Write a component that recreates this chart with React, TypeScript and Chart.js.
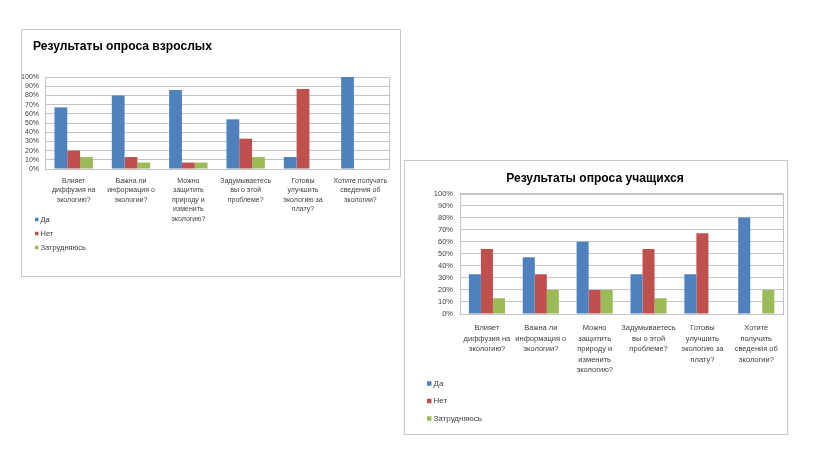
import React, { useEffect, useRef } from "react";
import { Chart, registerables } from "chart.js";

Chart.register(...registerables);

const seriesNames = ["Да", "Нет", "Затрудняюсь"];
const seriesColors = ["#4F81BD", "#C0504D", "#9BBB59"];

const adultTitle = "Результаты опроса взрослых";
const adultCategories = [
  ["Влияет", "диффузия на", "экологию?"],
  ["Важна ли", "информация о", "экологии?"],
  ["Можно", "защитить", "природу и", "изменить", "экологию?"],
  ["Задумываетесь", "вы о этой", "проблеме?"],
  ["Готовы", "улучшить", "экологию за", "плату?"],
  ["Хотите получать", "сведения об", "экологии?"],
];
const adultYes = [67, 80, 86, 54, 13, 100];
const adultNo = [20, 13, 7, 33, 87, 0];
const adultUnsure = [13, 7, 7, 13, 0, 0];

const studentTitle = "Результаты опроса учащихся";
const studentCategories = [
  ["Влияет", "диффузия на", "экологию?"],
  ["Важна ли", "информация о", "экологии?"],
  ["Можно", "защитить", "природу и", "изменить", "экологию?"],
  ["Задумываетесь", "вы о этой", "проблеме?"],
  ["Готовы", "улучшить", "экологию за", "плату?"],
  ["Хотите", "получать", "сведения об", "экологии?"],
];
const studentYes = [33, 47, 60, 33, 33, 80];
const studentNo = [54, 33, 20, 54, 67, 0];
const studentUnsure = [13, 20, 20, 13, 0, 20];

const yMin = 0;
const yMax = 100;
const yStep = 10;

const FONT = "'Liberation Sans', Arial, sans-serif";
const TEXT = "#404040";
const GRID = "#C4C4C4";

const frameLegendPlugin = {
  id: "frameLegend",
  beforeDatasetsDraw(chart: any, _a: any, opts: any) {
    const { ctx, chartArea } = chart;
    ctx.save();
    ctx.strokeStyle = opts.frameColor;
    ctx.lineWidth = 1;
    const l = Math.round(chartArea.left) + 0.5;
    const t = Math.round(chartArea.top) + 0.5;
    const r = Math.round(chartArea.right) + 0.5;
    const b = Math.round(chartArea.bottom) + 0.5;
    ctx.strokeRect(l, t, r - l, b - t);
    ctx.restore();
  },
  afterDraw(chart: any, _a: any, opts: any) {
    const { ctx } = chart;
    ctx.save();
    if (opts.title) {
      ctx.fillStyle = "#000";
      ctx.font = opts.title.font;
      ctx.textBaseline = "middle";
      ctx.textAlign = "left";
      ctx.fillText(opts.title.text, opts.title.x, opts.title.y);
    }
    chart.data.datasets.forEach((ds: any, i: number) => {
      const y = opts.y + i * opts.dy;
      ctx.fillStyle = ds.backgroundColor;
      ctx.fillRect(opts.x, y - opts.box / 2, opts.box, opts.box);
      ctx.fillStyle = TEXT;
      ctx.font = opts.font;
      ctx.textBaseline = "middle";
      ctx.textAlign = "left";
      ctx.fillText(ds.label, opts.x + opts.box + opts.gap, y);
    });
    ctx.restore();
  },
};

type Cfg = {
  title: string;
  useChartTitle: boolean;
  customTitle?: { x: number; y: number };
  categories: string[][];
  values: number[][];
  width: number;
  height: number;
  padTop: number;
  padRight: number;
  titleTop: number;
  titleBottom: number;
  yWidth: number;
  yPad: number;
  xHeight: number;
  xPad: number;
  tickSize: number;
  catSize: number;
  catLine: number;
  titleSize: number;
  legend: { x: number; y: number; dy: number; box: number; gap: number; font: string };
};

function BarChart({ cfg }: { cfg: Cfg }) {
  const ref = useRef<HTMLCanvasElement>(null);
  useEffect(() => {
    if (!ref.current) return;
    const titleFont = `bold ${cfg.titleSize}px ${FONT}`;
    const chart = new Chart(ref.current, {
      type: "bar",
      data: {
        labels: cfg.categories,
        datasets: seriesNames.map((name, i) => ({
          label: name,
          data: cfg.values[i],
          backgroundColor: seriesColors[i],
          borderWidth: 0,
          barPercentage: 1,
          categoryPercentage: 0.67,
        })),
      },
      options: {
        animation: false,
        responsive: false,
        devicePixelRatio: 1,
        layout: { padding: { left: 0, right: cfg.padRight, top: cfg.padTop, bottom: 0 } },
        plugins: {
          legend: { display: false },
          tooltip: { enabled: false },
          title: {
            display: cfg.useChartTitle,
            text: cfg.title,
            align: "center",
            color: "#000",
            font: { family: FONT, size: cfg.titleSize, weight: "bold", lineHeight: 1.2 },
            padding: { top: cfg.titleTop, bottom: cfg.titleBottom },
          },
          frameLegend: {
            frameColor: GRID,
            ...cfg.legend,
            title: cfg.customTitle ? { text: cfg.title, font: titleFont, ...cfg.customTitle } : null,
          },
        } as any,
        scales: {
          x: {
            grid: { display: false, drawTicks: false },
            border: { display: false },
            ticks: {
              color: TEXT,
              font: { family: FONT, size: cfg.catSize, lineHeight: cfg.catLine },
              padding: cfg.xPad,
              maxRotation: 0,
              minRotation: 0,
              autoSkip: false,
            },
            afterFit: (s: any) => {
              s.height = cfg.xHeight;
            },
          },
          y: {
            min: yMin,
            max: yMax,
            grid: { color: GRID, drawTicks: false, lineWidth: 1 },
            border: { display: false },
            ticks: {
              stepSize: yStep,
              autoSkip: false,
              color: TEXT,
              font: { family: FONT, size: cfg.tickSize },
              padding: cfg.yPad,
              callback: (v: any) => v + "%",
            },
            afterFit: (s: any) => {
              s.width = cfg.yWidth;
            },
          },
        },
      },
      plugins: [frameLegendPlugin],
    });
    return () => chart.destroy();
  }, [cfg]);
  return (
    <canvas
      ref={ref}
      width={cfg.width}
      height={cfg.height}
      style={{ display: "block", width: cfg.width, height: cfg.height }}
    />
  );
}

const adultCfg: Cfg = {
  title: adultTitle,
  useChartTitle: false,
  customTitle: { x: 11, y: 16.5 },
  categories: adultCategories,
  values: [adultYes, adultNo, adultUnsure],
  width: 378,
  height: 246,
  padTop: 47,
  padRight: 11,
  titleTop: 0,
  titleBottom: 0,
  yWidth: 23,
  yPad: 6,
  xHeight: 107,
  xPad: 7,
  tickSize: 7,
  catSize: 7,
  catLine: 1.36,
  titleSize: 12.1,
  legend: { x: 13, y: 189.5, dy: 14, box: 3.5, gap: 2, font: `7.5px ${FONT}` },
};

const studentCfg: Cfg = {
  title: studentTitle,
  useChartTitle: true,
  categories: studentCategories,
  values: [studentYes, studentNo, studentUnsure],
  width: 382,
  height: 273,
  padTop: 0,
  padRight: 2,
  titleTop: 10.5,
  titleBottom: 7.5,
  yWidth: 55,
  yPad: 7,
  xHeight: 120,
  xPad: 9,
  tickSize: 7.5,
  catSize: 7.5,
  catLine: 1.4,
  titleSize: 12.1,
  legend: { x: 22, y: 222.5, dy: 17.5, box: 4.5, gap: 2, font: `8px ${FONT}` },
};

export default function App() {
  return (
    <div style={{ position: "absolute", left: 0, top: 0, width: 816, height: 459, background: "#fff", overflow: "hidden" }}>
      <div style={{ position: "absolute", left: 21, top: 29, border: "1px solid #C8C8C8", background: "#fff" }}>
        <BarChart cfg={adultCfg} />
      </div>
      <div style={{ position: "absolute", left: 404, top: 160, border: "1px solid #C8C8C8", background: "#fff" }}>
        <BarChart cfg={studentCfg} />
      </div>
    </div>
  );
}
